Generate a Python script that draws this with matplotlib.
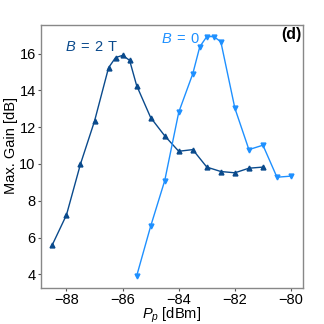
import matplotlib
matplotlib.use("Agg")
import matplotlib.pyplot as plt

plt.rcParams['font.family'] = ['Liberation Sans', 'DejaVu Sans']
plt.rcParams['mathtext.fontset'] = 'custom'
plt.rcParams['mathtext.rm'] = 'Liberation Sans'
plt.rcParams['mathtext.it'] = 'Liberation Sans:italic'
plt.rcParams['mathtext.bf'] = 'Liberation Sans:bold'

# B = 2 T series
p_2T = [-88.5, -88, -87.5, -87, -86.5, -86.25, -86, -85.75, -85.5, -85, -84.5,
        -84, -83.5, -83, -82.5, -82, -81.5, -81]
g_2T = [5.62, 7.23, 10.0, 12.33, 15.23, 15.78, 15.9, 15.63, 14.26, 12.52, 11.53,
        10.69, 10.78, 9.83, 9.59, 9.52, 9.77, 9.83]
# B = 0 series
p_0 = [-85.5, -85, -84.5, -84, -83.5, -83.25, -83, -82.75, -82.5, -82, -81.5,
       -81, -80.5, -80]
g_0 = [3.91, 6.62, 9.09, 12.81, 14.9, 16.37, 16.92, 16.92, 16.64, 13.03, 10.78,
       11.02, 9.28, 9.34]
xticks = [-88, -86, -84, -82, -80]
yticks = [4, 6, 8, 10, 12, 14, 16]

c_dark = '#0a4a8c'
c_light = '#1e90ff'

fig = plt.figure(figsize=(3.24, 3.24), dpi=100)
ax = fig.add_axes([0.125, 0.111, 0.810, 0.813])
ax.plot(p_2T, g_2T, '-^', color=c_dark, lw=1.0, ms=3.5)
ax.plot(p_0, g_0, '-v', color=c_light, lw=1.0, ms=3.5)

ax.set_xticks(xticks)
ax.set_yticks(yticks)
ax.tick_params(labelsize=10.5, length=2, width=0.8, pad=1.5, color='#555555')
for s in ax.spines.values():
    s.set_color('#888888')
    s.set_linewidth(1.0)

ax.set_xlabel(r'$P_p$ [dBm]', fontsize=10.5, labelpad=-1)
ax.set_ylabel('Max. Gain [dB]', fontsize=10.5)
ax.yaxis.set_label_coords(-0.085, 0.543)

ax.text(-88.05, 16.33, r'$B\;=\;2$ T', color=c_dark, fontsize=10.5, ha='left', va='center')
ax.text(-84.64, 16.79, r'$B\;=\;0$', color=c_light, fontsize=10.5, ha='left', va='center')
ax.text(0.994, 0.99, '(d)', transform=ax.transAxes, fontsize=11.5, fontweight='bold',
        ha='right', va='top')

fig.savefig('out.png', dpi=100)
